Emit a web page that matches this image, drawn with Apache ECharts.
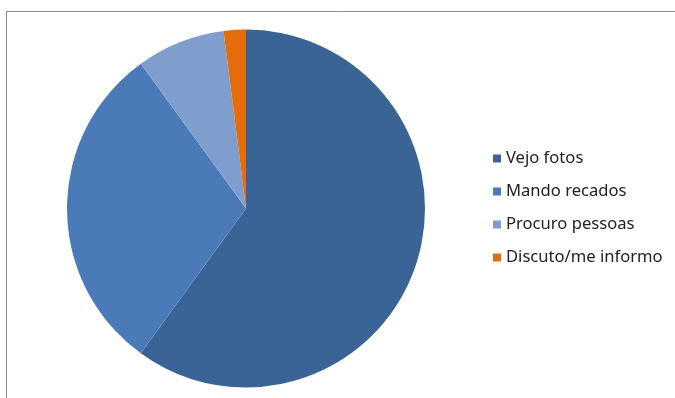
<!DOCTYPE html>
<html>
<head>
<meta charset="utf-8">
<script src="https://cdn.jsdelivr.net/npm/echarts@6/dist/echarts.min.js"></script>
<style>html,body{margin:0;padding:0;background:#fff}#c{width:675px;height:398px}</style>
</head>
<body>
<div id="c"></div>
<script>
const categories = ['Vejo fotos', 'Mando recados', 'Procuro pessoas', 'Discuto/me informo'];
const values = [60, 30, 8, 2];
const colors = ['#3B6496', '#4A7AB8', '#7F9ECD', '#E46C0A'];

const chart = echarts.init(document.getElementById('c'), null, {renderer: 'canvas'});
chart.setOption({
  animation: false,
  backgroundColor: '#fff',
  color: colors,
  graphic: [{
    type: 'rect',
    shape: {x: 6.5, y: 11.5, width: 720, height: 420},
    style: {fill: 'none', stroke: '#8c8c8c', lineWidth: 1},
    silent: true
  }],
  legend: {
    orient: 'vertical',
    left: 493,
    top: 150,
    padding: 0,
    icon: 'rect',
    itemWidth: 8,
    itemHeight: 8,
    itemGap: 16,
    textStyle: {fontFamily: 'Noto Sans', fontSize: 16.6, color: '#222', lineHeight: 17},
    data: categories
  },
  series: [{
    type: 'pie',
    center: [246, 208.5],
    radius: 179,
    startAngle: 90,
    clockwise: true,
    label: {show: false},
    labelLine: {show: false},
    itemStyle: {borderWidth: 0},
    emphasis: {disabled: true},
    data: categories.map((n, i) => ({name: n, value: values[i]}))
  }]
});
</script>
</body>
</html>
